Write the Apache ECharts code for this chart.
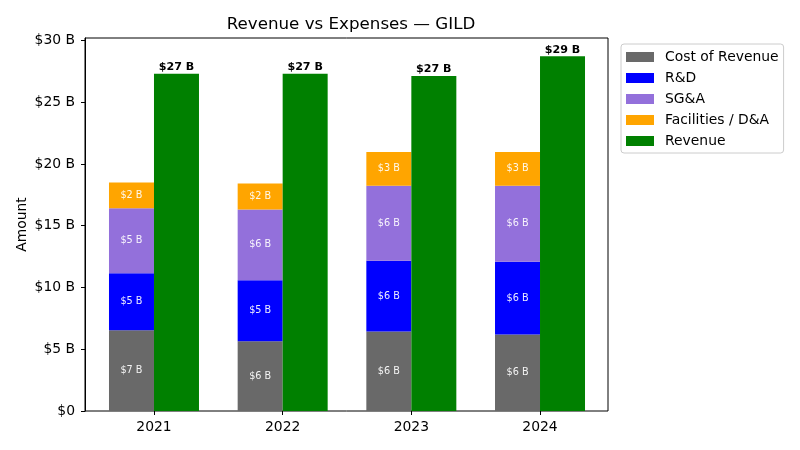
<!DOCTYPE html>
<html>
<head>
<meta charset="utf-8">
<script src="https://cdn.jsdelivr.net/npm/echarts@6/dist/echarts.min.js"></script>
<style>html,body{margin:0;padding:0;background:#fff}#c{width:800px;height:450px}</style>
</head>
<body>
<div id="c"></div>
<script>
const years = ['2021', '2022', '2023', '2024'];
const costOfRevenue = [6.54, 5.65, 6.44, 6.20];
const rnd = [4.61, 4.93, 5.73, 5.89];
const sga = [5.27, 5.74, 6.06, 6.14];
const facilities = [2.08, 2.10, 2.75, 2.75];
const revenue = [27.30, 27.30, 27.12, 28.73];
const yTicks = [0, 5, 10, 15, 20, 25, 30];

const FONT = 'DejaVu Sans';
const Y_MAX = 30.2;
const chart = echarts.init(document.getElementById('c'), null, {renderer: 'canvas'});
const fmtB = p => '$' + Math.round(p.value) + ' B';

function stackSeries(name, arr, color) {
  return {
    name, type: 'bar', stack: 'exp', data: arr, barWidth: 45, barGap: '0%',
    itemStyle: {color},
    label: {show: true, position: 'inside', formatter: fmtB, color: 'rgba(255,255,255,0.92)', fontSize: 9.7, fontFamily: FONT},
    emphasis: {disabled: true}
  };
}

chart.setOption({
  animation: false,
  backgroundColor: '#fff',
  textStyle: {fontFamily: FONT},
  title: {
    text: 'Revenue vs Expenses — GILD', left: 346, top: 11, textAlign: 'center',
    textStyle: {fontSize: 16.7, fontWeight: 'normal', color: '#000', fontFamily: FONT}
  },
  legend: {
    orient: 'vertical', left: 621, top: 44, padding: [6, 5, 5, 5],
    itemWidth: 28, itemHeight: 10, itemGap: 7, icon: 'rect',
    borderColor: '#ccc', borderWidth: 1, borderRadius: 3,
    textStyle: {fontSize: 13.9, color: '#000', fontFamily: FONT, padding: [0, 0, 0, 6]},
    data: ['Cost of Revenue', 'R&D', 'SG&A', 'Facilities / D&A', 'Revenue']
  },
  grid: [
    {left: 89.65, right: 195.65, top: 38, bottom: 39, show: false},
    {left: 85, right: 192, top: 38, bottom: 39, show: true, borderColor: '#000', borderWidth: 1, backgroundColor: 'transparent'}
  ],
  xAxis: [
    {
      type: 'category', gridIndex: 0, data: years,
      axisLine: {show: false},
      axisTick: {show: true, alignWithLabel: true, length: 4, lineStyle: {color: '#000'}},
      axisLabel: {fontSize: 13.9, color: '#000', margin: 9, fontFamily: FONT}
    },
    {type: 'value', gridIndex: 1, show: false, min: 0, max: 1}
  ],
  yAxis: [
    {type: 'value', gridIndex: 0, min: 0, max: Y_MAX, show: false, splitLine: {show: false}},
    {
      type: 'value', gridIndex: 1, min: 0, max: Y_MAX,
      name: 'Amount', nameLocation: 'middle', nameGap: 56, nameRotate: 90, nameMoveOverlap: false,
      nameTextStyle: {fontSize: 13.9, color: '#000', fontFamily: FONT},
      splitLine: {show: false},
      axisLine: {show: true, onZero: false, lineStyle: {color: '#000', width: 1}},
      axisTick: {show: true, customValues: yTicks, length: 4, lineStyle: {color: '#000'}},
      axisLabel: {customValues: yTicks, formatter: v => v === 0 ? '$0' : '$' + v + ' B', fontSize: 13.9, color: '#000', margin: 10, fontFamily: FONT}
    }
  ],
  series: [
    stackSeries('Cost of Revenue', costOfRevenue, '#696969'),
    stackSeries('R&D', rnd, '#0000ff'),
    stackSeries('SG&A', sga, '#9370db'),
    stackSeries('Facilities / D&A', facilities, '#ffa500'),
    {
      name: 'Revenue', type: 'bar', data: revenue, barWidth: 45, barGap: '0%',
      itemStyle: {color: '#008000'},
      label: {show: true, position: 'top', distance: 1, formatter: fmtB, color: '#000', fontWeight: 'bold', fontSize: 11.1, fontFamily: FONT},
      emphasis: {disabled: true}
    }
  ]
});
</script>
</body>
</html>
